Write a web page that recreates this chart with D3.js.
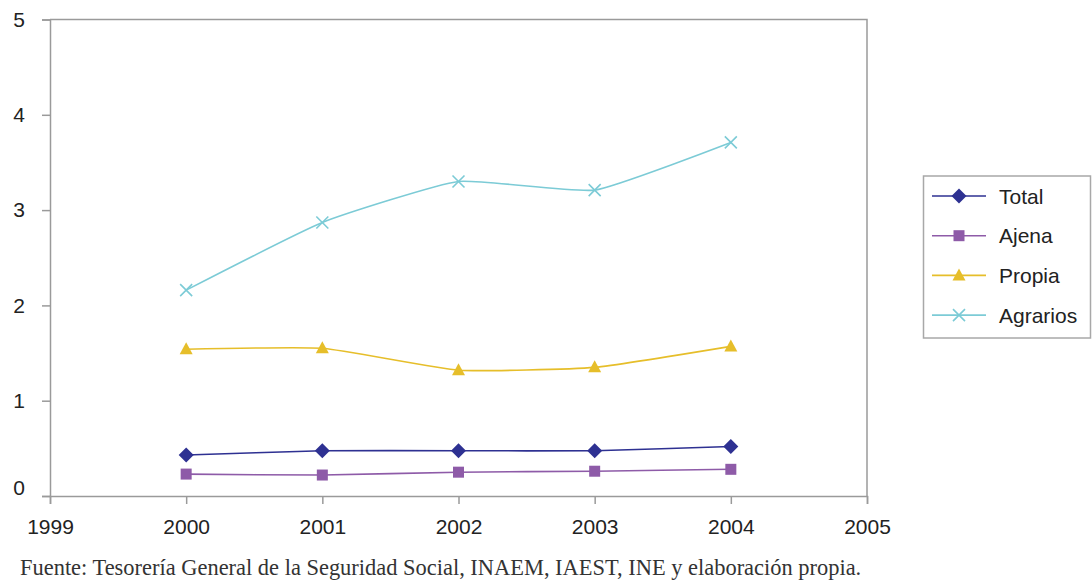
<!DOCTYPE html>
<html><head><meta charset="utf-8">
<script src="https://cdn.jsdelivr.net/npm/d3@7"></script>
<style>body{margin:0;background:#fff}svg{display:block}</style>
</head><body>
<svg id="c" width="1092" height="580"></svg>
<script>
const years = [2000, 2001, 2002, 2003, 2004];
const xTicks = [1999, 2000, 2001, 2002, 2003, 2004, 2005];
const yTicks = [0, 1, 2, 3, 4, 5];
const seriesNames = ["Total", "Ajena", "Propia", "Agrarios"];
const totalVals = [0.43, 0.475, 0.475, 0.475, 0.52];
const ajenaVals = [0.23, 0.22, 0.25, 0.26, 0.28];
const propiaVals = [1.54, 1.55, 1.32, 1.35, 1.57];
const agrariosVals = [2.16, 2.87, 3.30, 3.21, 3.71];
const sourceText = "Fuente: Tesorería General de la Seguridad Social, INAEM, IAEST, INE y elaboración propia.";

const series = [
  {name: seriesNames[0], values: totalVals, color: "#2E3192", marker: "diamond"},
  {name: seriesNames[1], values: ajenaVals, color: "#8E5BA8", marker: "square"},
  {name: seriesNames[2], values: propiaVals, color: "#E6BE2A", marker: "triangle"},
  {name: seriesNames[3], values: agrariosVals, color: "#7CCBD6", marker: "cross"}
];

const svg = d3.select("#c");
const x = d3.scaleLinear().domain([1999, 2005]).range([50, 867]);
const y = d3.scaleLinear().domain([0, 5]).range([496, 19.5]);
const font = "'Liberation Sans', Arial, sans-serif";
const axisColor = "#9a9a9a";

svg.append("path")
  .attr("d", `M${x(1999)},${y(5)}H${x(2005)}V${y(0)}`)
  .attr("fill", "none").attr("stroke", axisColor).attr("stroke-width", 1.5);

const yAxis = svg.append("g").attr("transform", `translate(${x(1999)},0)`)
  .call(d3.axisLeft(y).tickValues(yTicks).tickSize(8).tickPadding(17).tickFormat(d3.format("d")));
yAxis.select(".domain").attr("stroke", axisColor).attr("stroke-width", 1.5);
yAxis.selectAll(".tick line").attr("stroke", axisColor).attr("stroke-width", 1.5);
yAxis.selectAll(".tick text").attr("font-family", font).attr("font-size", 21).attr("fill", "#222")
  .attr("transform", (d) => d === 0 ? "translate(0,-8)" : null);

const xAxis = svg.append("g").attr("transform", `translate(0,${y(0)})`)
  .call(d3.axisBottom(x).tickValues(xTicks).tickSize(8).tickPadding(15).tickFormat(d3.format("d")));
xAxis.select(".domain").attr("stroke", axisColor).attr("stroke-width", 1.5);
xAxis.selectAll(".tick line").attr("stroke", axisColor).attr("stroke-width", 1.5);
xAxis.selectAll(".tick text").attr("font-family", font).attr("font-size", 21).attr("fill", "#222");

function drawMarker(g, type, cx, cy, color) {
  if (type === "diamond") {
    g.append("path").attr("d", `M${cx},${cy-7.5}L${cx+7.5},${cy}L${cx},${cy+7.5}L${cx-7.5},${cy}Z`).attr("fill", color);
  } else if (type === "square") {
    g.append("rect").attr("x", cx-5.5).attr("y", cy-5.5).attr("width", 11).attr("height", 11).attr("fill", color);
  } else if (type === "triangle") {
    g.append("path").attr("d", `M${cx},${cy-7}L${cx+6.5},${cy+5}L${cx-6.5},${cy+5}Z`).attr("fill", color);
  } else {
    g.append("path").attr("d", `M${cx-6},${cy-6}L${cx+6},${cy+6}M${cx+6},${cy-6}L${cx-6},${cy+6}`)
      .attr("stroke", color).attr("stroke-width", 1.6).attr("fill", "none");
  }
}

const line = d3.line().x((d, i) => x(years[i])).y((d) => y(d)).curve(d3.curveCardinal.tension(0.55));

series.forEach((s) => {
  const g = svg.append("g");
  g.append("path").attr("d", line(s.values)).attr("fill", "none")
    .attr("stroke", s.color).attr("stroke-width", 1.6);
  s.values.forEach((v, i) => drawMarker(g, s.marker, x(years[i]), y(v), s.color));
});

const lg = svg.append("g");
lg.append("rect").attr("x", 923.5).attr("y", 176).attr("width", 167).attr("height", 162)
  .attr("fill", "#fff").attr("stroke", "#a8a8a8").attr("stroke-width", 1.5);
series.forEach((s, i) => {
  const cy = 196 + i * 39.7;
  lg.append("line").attr("x1", 932).attr("x2", 986).attr("y1", cy).attr("y2", cy)
    .attr("stroke", s.color).attr("stroke-width", 1.6);
  drawMarker(lg, s.marker, 959, cy, s.color);
  lg.append("text").attr("x", 999).attr("y", cy + 7.5).attr("font-family", font)
    .attr("font-size", 21).attr("fill", "#222").text(s.name);
});

const src = svg.append("text").attr("x", 20).attr("y", 575)
  .attr("font-family", "'Liberation Serif', 'Times New Roman', serif").attr("font-size", 20)
  .attr("fill", "#333").text(sourceText);
const w = src.node().getComputedTextLength();
src.attr("font-size", 20 * 842 / w);
</script>
</body></html>
